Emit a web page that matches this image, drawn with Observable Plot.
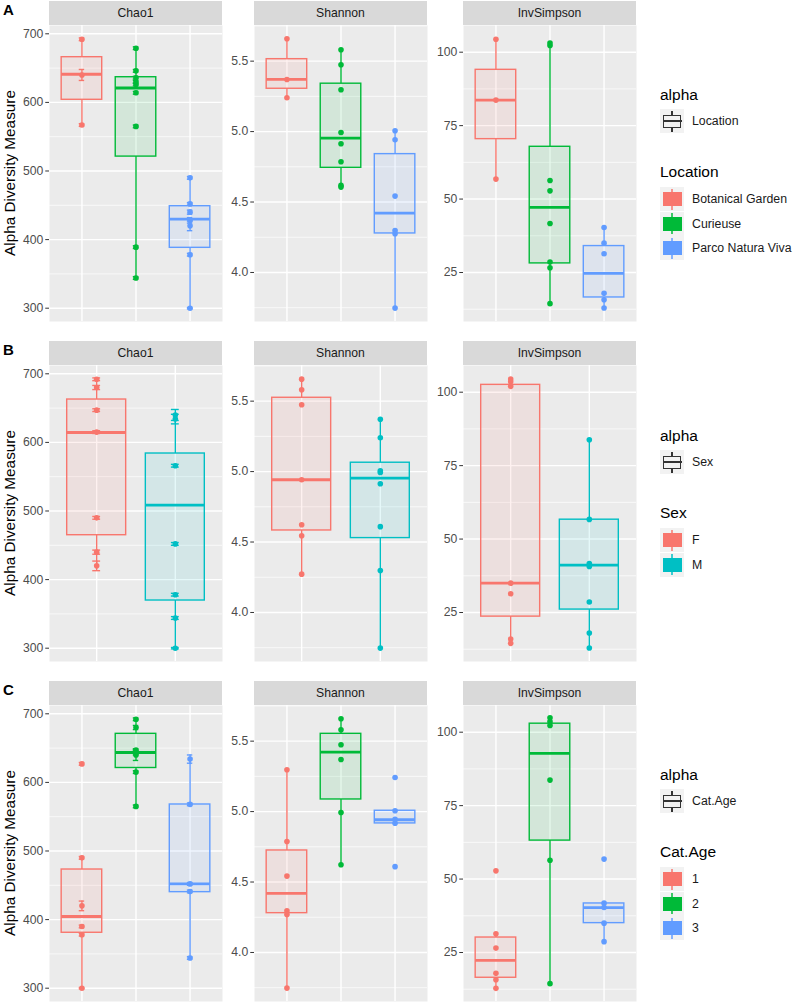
<!DOCTYPE html>
<html><head><meta charset="utf-8">
<script src="https://cdn.jsdelivr.net/npm/d3@7"></script>
<script src="https://cdn.jsdelivr.net/npm/@observablehq/plot@0.6"></script>
<style>
body{margin:0;background:#fff;font-family:"Liberation Sans",Arial,sans-serif;}
#root{position:relative;width:793px;height:1002px;overflow:hidden;background:#fff;}
#root svg{position:absolute;overflow:visible;}
.t{position:absolute;white-space:nowrap;transform:translateY(-50%);line-height:1;}
</style></head>
<body><div id="root"></div>
<script>
// ---------- scales / ticks ----------
const metrics = ["Chao1", "Shannon", "InvSimpson"];
const chao1Domain = [280.6, 712.1];
const shannonDomain = [3.652, 5.753];
const invSimpsonDomain = [8.32, 109.09];
const chao1Ticks = [300, 400, 500, 600, 700];
const chao1Minor = [350, 450, 550, 650];
const shannonTicks = [4.0, 4.5, 5.0, 5.5];
const shannonMinor = [3.75, 4.25, 4.75, 5.25, 5.75];
const invSimpsonTicks = [25, 50, 75, 100];
const invSimpsonMinor = [12.5, 37.5, 62.5, 87.5];

// ---------- row A: Location ----------
const groupsA = ["Botanical Garden", "Curieuse", "Parco Natura Viva"];
const colorsA = ["#F8766D", "#00BA38", "#619CFF"];
const chao1A = [[692, 640, 567], [679, 646, 636, 630, 626, 614, 565, 389, 344], [490, 452, 440, 428, 420, 378, 300]];
const chao1SeA = [[2, 8, 2], [2, 2, 2, 2, 2, 2, 2, 2, 2], [2, 2, 3, 4, 7, 2, 1]];
const chao1BoxA = [[567, 603.8, 641, 665.9, 692], [344, 521, 621, 636.7, 679], [300, 388, 429.8, 448.7, 490]];
const shannonA = [[5.659, 5.370, 5.240], [5.581, 5.474, 5.297, 4.994, 4.914, 4.786, 4.618, 4.606], [5.006, 4.942, 4.542, 4.298, 4.275, 3.747]];
const shannonBoxA = [[5.240, 5.304, 5.370, 5.514, 5.659], [4.606, 4.743, 4.954, 5.340, 5.581], [3.747, 4.277, 4.421, 4.840, 5.006]];
const invSimpsonA = [[104.4, 83.7, 56.8], [103.1, 102.3, 56.3, 52.8, 41.7, 28.6, 26.6, 14.4], [40.3, 35.0, 31.4, 17.9, 15.7, 12.9]];
const invSimpsonBoxA = [[56.8, 70.4, 83.7, 94.0, 104.4], [14.4, 28.1, 47.2, 67.8, 103.1], [12.9, 16.5, 24.7, 34.0, 40.3]];

// ---------- row B: Sex ----------
const groupsB = ["F", "M"];
const colorsB = ["#F8766D", "#00BFC4"];
const chao1B = [[692, 680, 647, 615, 490, 440, 420], [640, 634, 566, 452, 378, 344, 300]];
const chao1SeB = [[2, 3, 2, 2, 2, 3, 7], [8, 7, 2, 2, 2, 2, 1]];
const chao1BoxB = [[420, 464.7, 614.4, 662.5, 692], [300, 369.5, 508.5, 583.8, 640]];
const shannonB = [[5.656, 5.581, 5.474, 4.942, 4.623, 4.545, 4.272], [5.372, 5.240, 5.006, 4.994, 4.914, 4.609, 4.298, 3.747]];
const shannonBoxB = [[4.272, 4.582, 4.942, 5.524, 5.656], [3.747, 4.528, 4.954, 5.063, 5.372]];
const invSimpsonB = [[104.5, 103.6, 102.0, 35.0, 31.4, 16.0, 14.5], [83.8, 56.7, 41.7, 40.7, 28.6, 18.0, 12.9]];
const invSimpsonBoxB = [[14.5, 23.6, 35.0, 102.5, 104.5], [12.9, 26.0, 41.1, 56.6, 83.8]];

// ---------- row C: Cat.Age ----------
const groupsC = ["1", "2", "3"];
const colorsC = ["#F8766D", "#00BA38", "#619CFF"];
const chao1C = [[627, 490, 420, 390, 378, 300], [692, 680, 647, 643, 640, 615, 565], [634, 568, 452, 441, 344]];
const chao1SeC = [[2, 2, 7, 2, 2, 1], [2, 3, 2, 3, 8, 2, 2], [6, 2, 2, 2, 2]];
const chao1BoxC = [[300, 380.8, 404.5, 473, 490], [565, 621, 643.6, 670.8, 692], [344, 440, 452, 567.8, 634]];
const shannonC = [[5.297, 4.788, 4.542, 4.296, 4.270, 3.747], [5.659, 5.581, 5.474, 5.370, 4.994, 4.623], [5.242, 5.006, 4.946, 4.918, 4.609]];
const shannonBoxC = [[3.747, 4.279, 4.419, 4.724, 5.297], [4.623, 5.086, 5.422, 5.552, 5.659], [4.916, 4.916, 4.942, 5.006, 5.006]];
const invSimpsonC = [[52.8, 31.4, 26.5, 17.9, 15.7, 12.8], [104.9, 103.6, 102.3, 83.7, 56.4, 14.4], [56.8, 41.8, 40.3, 35.0, 28.7]];
const invSimpsonBoxC = [[12.8, 16.4, 22.3, 30.1, 31.4], [14.4, 63.1, 92.8, 102.9, 104.9], [28.7, 35.0, 40.3, 41.7, 41.8]];

const rowLetters = ["A", "B", "C"];
const legendTitles = ["Location", "Sex", "Cat.Age"];

// ---------- layout ----------
const root = document.getElementById("root");
const FONT = '"Liberation Sans", Arial, sans-serif';
const panelX = [49, 254, 463];
const marginLefts = [49, 40, 40];
const panelW = 173, panelH = 296;
const rowTop = [0, 340, 680];
const legendTop = [95, 436, 775];

function addDiv(css, text) {
  const d = document.createElement("div");
  d.style.cssText = css;
  if (text != null) d.textContent = text;
  root.appendChild(d);
  return d;
}

function makePanel(cfg, marginLeft) {
  const {values, se, box, colors, domain, ticks, minor, fmt} = cfg;
  const n = box.length;
  const gi = d3.range(1, n + 1);
  const pts = values.flatMap((arr, i) => arr.map((v, j) => ({g: i + 1, v, se: se ? se[i][j] : 0})));
  const bx = box.map((b, i) => ({g: i + 1, lo: b[0], q1: b[1], med: b[2], q3: b[3], hi: b[4]}));
  const hw = 0.375, cw = 0.05, lw = 1.4;
  const marks = [
    Plot.frame({fill: "#EBEBEB", stroke: "none"}),
    Plot.ruleY(minor, {stroke: "#ffffff", strokeWidth: 0.7}),
    Plot.ruleY(ticks, {stroke: "#ffffff", strokeWidth: lw}),
    Plot.ruleX(gi, {stroke: "#ffffff", strokeWidth: lw}),
    Plot.dot(pts, {x: "g", y: "v", r: 2.8, fill: "g", stroke: "none"})
  ];
  if (se) {
    marks.push(
      Plot.ruleX(pts, {x: "g", y1: d => d.v - d.se, y2: d => d.v + d.se, stroke: "g", strokeWidth: lw}),
      Plot.ruleY(pts, {y: d => d.v - d.se, x1: d => d.g - cw, x2: d => d.g + cw, stroke: "g", strokeWidth: lw}),
      Plot.ruleY(pts, {y: d => d.v + d.se, x1: d => d.g - cw, x2: d => d.g + cw, stroke: "g", strokeWidth: lw})
    );
  }
  marks.push(
    Plot.ruleX(bx, {x: "g", y1: "q3", y2: "hi", stroke: "g", strokeWidth: lw}),
    Plot.ruleX(bx, {x: "g", y1: "lo", y2: "q1", stroke: "g", strokeWidth: lw}),
    Plot.rect(bx, {x1: d => d.g - hw, x2: d => d.g + hw, y1: "q1", y2: "q3", fill: "g", fillOpacity: 0.1, stroke: "g", strokeWidth: lw}),
    Plot.ruleY(bx, {y: "med", x1: d => d.g - hw, x2: d => d.g + hw, stroke: "g", strokeWidth: 2.8}),
    Plot.axisY(ticks, {tickSize: 3.75, tickPadding: 2.5, fontSize: 12.2, stroke: "#333333", fill: "#4D4D4D", tickFormat: fmt, label: null})
  );
  return Plot.plot({
    width: marginLeft + panelW,
    height: panelH,
    marginLeft, marginRight: 0, marginTop: 0, marginBottom: 0,
    x: {domain: [0.4, n + 0.6], axis: null},
    y: {domain},
    color: {type: "ordinal", domain: gi, range: colors},
    style: {fontFamily: FONT, fontSize: "12px", background: "transparent", overflow: "visible"},
    marks
  });
}

const rows = [
  {groups: groupsA, colors: colorsA,
   chao1: [chao1A, chao1SeA, chao1BoxA], shannon: [shannonA, shannonBoxA], inv: [invSimpsonA, invSimpsonBoxA]},
  {groups: groupsB, colors: colorsB,
   chao1: [chao1B, chao1SeB, chao1BoxB], shannon: [shannonB, shannonBoxB], inv: [invSimpsonB, invSimpsonBoxB]},
  {groups: groupsC, colors: colorsC,
   chao1: [chao1C, chao1SeC, chao1BoxC], shannon: [shannonC, shannonBoxC], inv: [invSimpsonC, invSimpsonBoxC]}
];

rows.forEach((row, r) => {
  const top = rowTop[r];
  const cfgs = [
    {values: row.chao1[0], se: row.chao1[1], box: row.chao1[2], colors: row.colors, domain: chao1Domain, ticks: chao1Ticks, minor: chao1Minor, fmt: d3.format("d")},
    {values: row.shannon[0], se: null, box: row.shannon[1], colors: row.colors, domain: shannonDomain, ticks: shannonTicks, minor: shannonMinor, fmt: d3.format(".1f")},
    {values: row.inv[0], se: null, box: row.inv[1], colors: row.colors, domain: invSimpsonDomain, ticks: invSimpsonTicks, minor: invSimpsonMinor, fmt: d3.format("d")}
  ];
  cfgs.forEach((cfg, c) => {
    const svg = makePanel(cfg, marginLefts[c]);
    svg.style.left = (panelX[c] - marginLefts[c]) + "px";
    svg.style.top = (top + 25) + "px";
    root.appendChild(svg);
    // strip
    addDiv(`position:absolute;left:${panelX[c]}px;top:${top + 0.5}px;width:${panelW}px;height:24.5px;background:#D9D9D9;color:#1A1A1A;font-size:12.2px;font-family:${FONT};display:flex;align-items:center;justify-content:center;`, metrics[c]);
  });
  // y title
  addDiv(`position:absolute;left:10px;top:${top + 173}px;transform:translate(-50%,-50%) rotate(-90deg);font-size:15.3px;color:#000;white-space:nowrap;font-family:${FONT};`, "Alpha Diversity Measure");
  // row letter
  addDiv(`position:absolute;left:3px;top:${top + 9}px;transform:translateY(-50%);font-size:15px;font-weight:bold;color:#000;line-height:1;font-family:${FONT};`, rowLetters[r]);

  // legend
  const T = legendTop[r];
  const LX = 660;
  addDiv(`left:${LX}px;top:${T}px;font-size:15.5px;color:#000;`, "alpha").className = "t";
  // alpha key
  const k0 = T + 14;
  addDiv(`position:absolute;left:${LX}px;top:${k0}px;width:24px;height:24px;background:#F2F2F2;`);
  addDiv(`position:absolute;left:${LX + 11.3}px;top:${k0 + 1.5}px;width:1.4px;height:21px;background:#333;`);
  addDiv(`position:absolute;left:${LX + 2.5}px;top:${k0 + 5.5}px;width:16px;height:11px;border:1.4px solid #333;background:#F2F2F2;`);
  addDiv(`position:absolute;left:${LX + 2.5}px;top:${k0 + 11.3}px;width:19px;height:1.4px;background:#333;`);
  const l0 = addDiv(`left:${LX + 32}px;top:${k0 + 12}px;font-size:12.3px;color:#1A1A1A;`, legendTitles[r]);
  l0.className = "t";
  // group legend
  const gt = addDiv(`left:${LX}px;top:${T + 77}px;font-size:15.5px;color:#000;`, legendTitles[r]);
  gt.className = "t";
  row.groups.forEach((g, i) => {
    const ky = T + 92 + i * 24.5;
    const col = row.colors[i];
    addDiv(`position:absolute;left:${LX}px;top:${ky}px;width:24px;height:24px;background:#F2F2F2;`);
    addDiv(`position:absolute;left:${LX + 11.3}px;top:${ky + 1.5}px;width:1.4px;height:21px;background:${col};opacity:0.75;`);
    addDiv(`position:absolute;left:${LX + 2.5}px;top:${ky + 5}px;width:19px;height:14px;background:${col};`);
    const lb = addDiv(`left:${LX + 32}px;top:${ky + 12}px;font-size:12.3px;color:#1A1A1A;`, g);
    lb.className = "t";
  });
});
</script>
</body></html>
